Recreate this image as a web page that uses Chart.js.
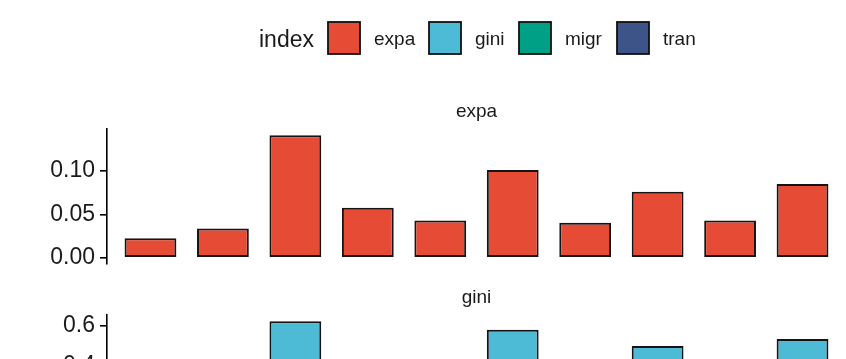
<!DOCTYPE html>
<html>
<head>
<meta charset="utf-8">
<script src="https://cdn.jsdelivr.net/npm/chart.js@4/dist/chart.umd.min.js"></script>
<style>
  html, body { margin: 0; padding: 0; background: #fff; overflow: hidden; width: 846px; height: 359px; }
  .panel { position: absolute; left: 0; }
</style>
</head>
<body>
<div class="panel" style="top:0"><canvas id="cExpa" width="846" height="270"></canvas></div>
<div class="panel" style="top:270px"><canvas id="cGini" width="846" height="200"></canvas></div>
<script>
// ---- data ----
const categories = ["1", "2", "3", "4", "5", "6", "7", "8", "9", "10"];
const legendTitle = "index";
const legendLabels = ["expa", "gini", "migr", "tran"];
const legendColors = ["#E64B35", "#4DBBD5", "#00A087", "#3C5488"];
const expaValues = [0.0226, 0.0337, 0.141, 0.0575, 0.0429, 0.101, 0.0402, 0.0759, 0.0429, 0.085];
const expaTicks = [0, 0.05, 0.10];
// only the upper part of the gini panel is visible; hidden bars estimated below 0.42
const giniValues = [0.30, 0.34, 0.62, 0.40, 0.33, 0.578, 0.36, 0.498, 0.32, 0.532];
const giniTicks = [0, 0.2, 0.4, 0.6];

const FONT = "'Liberation Sans', Arial, Helvetica, sans-serif";

function expandRange(vals) {
  const lo = Math.min(0, ...vals), hi = Math.max(0, ...vals);
  const pad = (hi - lo) * 0.05;
  return { min: lo - pad, max: hi + pad };
}

const stripPlugin = {
  id: 'strip',
  afterDraw(chart, args, opts) {
    const ctx = chart.ctx, ca = chart.chartArea;
    ctx.save();
    ctx.fillStyle = '#1a1a1a';
    ctx.font = '19px ' + FONT;
    ctx.textAlign = 'center';
    ctx.textBaseline = 'middle';
    ctx.fillText(opts.text, (ca.left + ca.right) / 2, ca.top - 17);
    if (opts.legend) {
      ctx.textAlign = 'left';
      ctx.textBaseline = 'alphabetic';
      ctx.font = '23px ' + FONT;
      ctx.fillText(legendTitle, 259, 47);
      const boxX = [328, 429, 519, 617];
      ctx.font = '19px ' + FONT;
      legendLabels.forEach((lab, i) => {
        ctx.fillStyle = legendColors[i];
        ctx.fillRect(boxX[i], 22, 32, 32);
        ctx.strokeStyle = '#111';
        ctx.lineWidth = 1.8;
        ctx.strokeRect(boxX[i], 22, 32, 32);
        ctx.fillStyle = '#1a1a1a';
        ctx.fillText(lab, boxX[i] + 46, 45);
      });
    }
    ctx.restore();
  }
};

function makePanel(id, values, ticks, color, title, pad, legend, tickFmt) {
  const r = expandRange(values);
  return new Chart(document.getElementById(id), {
    type: 'bar',
    data: {
      datasets: [{
        label: title,
        data: values.map((v, i) => ({ x: i + 1, y: v })),
        backgroundColor: color,
        borderColor: '#141414',
        borderWidth: 2,
        borderSkipped: false,
        barPercentage: 0.715,
        categoryPercentage: 1.0
      }]
    },
    options: {
      responsive: false,
      animation: false,
      devicePixelRatio: 1,
      layout: { padding: { top: pad.top, bottom: pad.bottom, left: 0, right: 0 } },
      plugins: {
        legend: { display: false },
        tooltip: { enabled: false },
        strip: { text: title, legend: legend }
      },
      scales: {
        x: {
          type: 'linear',
          offset: false,
          min: 0.4,
          max: categories.length + 0.6,
          afterBuildTicks: (s) => { s.ticks = categories.map((c, i) => ({ value: i + 1 })); },
          display: false
        },
        y: {
          min: r.min,
          max: r.max,
          afterBuildTicks: (s) => { s.ticks = ticks.map(v => ({ value: v })); },
          afterFit: (s) => { s.width = 107; s.paddingTop = 0; s.paddingBottom = 0; },
          border: { display: true, color: '#000', width: 1.6 },
          grid: { drawOnChartArea: false, drawTicks: true, tickLength: 7, color: '#000', lineWidth: 1.6 },
          ticks: {
            padding: 5,
            color: '#1a1a1a',
            font: { family: FONT, size: 23 },
            callback: (v) => tickFmt(v)
          }
        }
      }
    },
    plugins: [stripPlugin]
  });
}

makePanel('cExpa', expaValues, expaTicks, legendColors[0], 'expa', { top: 129, bottom: 6 }, true, v => v.toFixed(2));
makePanel('cGini', giniValues, giniTicks, legendColors[1], 'gini', { top: 45, bottom: 17 }, false, v => v.toFixed(1));
</script>
</body>
</html>
